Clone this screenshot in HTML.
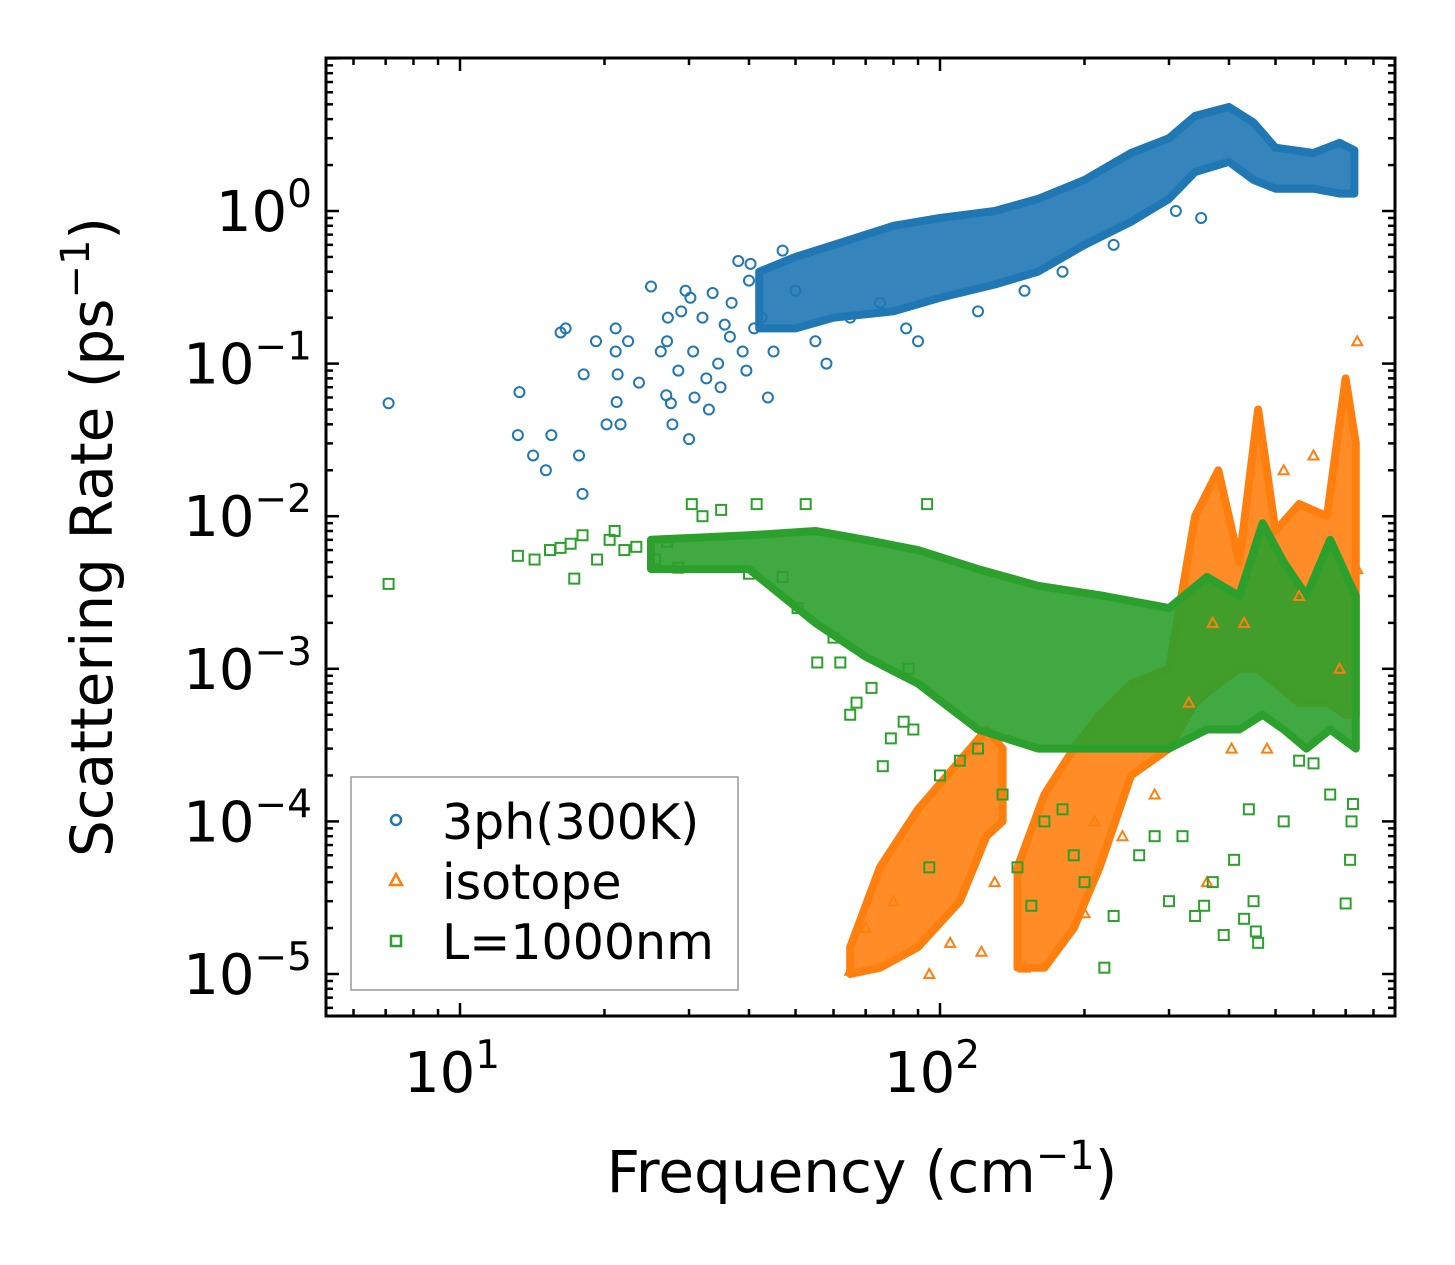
<!DOCTYPE html>
<html><head><meta charset="utf-8">
<style>
html,body{margin:0;padding:0;background:#fff;}
svg{display:block;font-family:"DejaVu Sans","Liberation Sans",sans-serif;}
</style></head>
<body>
<svg id="chart" width="1455" height="1265" viewBox="0 0 1455 1265" xmlns="http://www.w3.org/2000/svg">
<rect width="1455" height="1265" fill="#fff"/>
<g id="bands"></g>
<g id="marks"></g>
<g id="axes"></g>
<rect x="326" y="58" width="1069" height="958" fill="none" stroke="#000" stroke-width="3"/>
<text transform="translate(112,537) rotate(-90)" text-anchor="middle" font-size="58">Scattering Rate (ps<tspan dy="-23" font-size="40">−1</tspan><tspan dy="23">)</tspan></text>
<text x="862" y="1192" text-anchor="middle" font-size="58">Frequency (cm<tspan dy="-23" font-size="40">−1</tspan><tspan dy="23">)</tspan></text>
<g>
<rect x="351" y="777" width="387" height="213" fill="#fff" stroke="#999" stroke-width="1.5"/>
<circle cx="396" cy="820" r="5" fill="none" stroke="#1f77b4" stroke-width="2.5"/>
<text x="442" y="839" font-size="49">3ph(300K)</text>
<path d="M396,874 L402,885 L390,885 Z" fill="none" stroke="#ff7f0e" stroke-width="2.5"/>
<text x="442" y="899" font-size="49">isotope</text>
<rect x="391" y="936" width="10" height="10" fill="none" stroke="#2ca02c" stroke-width="2.5"/>
<text x="442" y="959" font-size="49">L=1000nm</text>
</g>
</svg>
<script>
// ---- data ----
const xTickValues=[10,100];
const yTickExponents=[0,-1,-2,-3,-4,-5];
// envelopes: [freq, low, high]
const blueBand=[[42,0.17,0.4],[50,0.17,0.5],[60,0.2,0.6],[80,0.22,0.8],[100,0.27,0.9],[130,0.33,1.0],[160,0.4,1.2],[200,0.6,1.6],[250,0.85,2.4],[300,1.2,3.0],[340,1.8,4.2],[400,2.1,4.8],[450,1.6,3.8],[500,1.4,2.6],[600,1.4,2.4],[680,1.3,2.8],[730,1.3,2.5]];
const orangeBand1=[[65,1.0e-5,1.5e-5],[75,1.1e-5,5e-5],[90,1.5e-5,1.2e-4],[110,3e-5,2.5e-4],[125,8e-5,4e-4],[135,1e-4,3e-4]];
const orangeBand2=[[145,1.1e-5,5e-5],[165,1.1e-5,1.5e-4],[190,2e-5,3e-4],[215,5e-5,5e-4],[250,2e-4,8e-4],[300,3e-4,1e-3],[340,6e-4,1e-2],[380,8e-4,2e-2],[420,1e-3,5e-3],[460,1e-3,5e-2],[500,8e-4,8e-3],[560,6e-4,1.2e-2],[640,6e-4,1e-2],[700,5e-4,8e-2],[735,5e-4,3e-2]];
const greenBand=[[25,4.5e-3,7e-3],[40,4.5e-3,7.5e-3],[55,2e-3,8e-3],[70,1.2e-3,7e-3],[90,8e-4,6e-3],[120,4e-4,4.5e-3],[160,3e-4,3.5e-3],[220,3e-4,3e-3],[300,3e-4,2.5e-3],[360,4e-4,4e-3],[420,4e-4,3e-3],[470,5e-4,9e-3],[520,4e-4,5e-3],[580,3e-4,3e-3],[650,4e-4,7e-3],[735,3e-4,3e-3]];
// sparse points: [freq, rate]
const bluePoints=[[7.1,0.055],[13.3,0.065],[13.2,0.034],[14.2,0.025],[15.1,0.02],[15.5,0.034],[16.2,0.16],[16.6,0.17],[17.7,0.025],[18.0,0.014],[18.1,0.085],[19.2,0.14],[20.2,0.04],[21.1,0.17],[21.1,0.12],[21.2,0.056],[21.6,0.04],[21.3,0.085],[22.4,0.14],[23.6,0.075],[25.0,0.32],[26.2,0.12],[26.9,0.062],[27.1,0.2],[27.0,0.14],[27.5,0.055],[27.7,0.04],[28.5,0.09],[28.9,0.22],[29.5,0.3],[30.0,0.032],[30.2,0.27],[30.6,0.12],[30.8,0.06],[32.0,0.2],[32.6,0.08],[33.0,0.05],[33.6,0.29],[34.5,0.1],[34.9,0.07],[35.6,0.18],[36.5,0.15],[36.8,0.25],[38.0,0.47],[38.8,0.12],[39.5,0.09],[40.0,0.35],[40.3,0.45],[41.0,0.17],[42.5,0.2],[43.8,0.06],[45,0.12],[47,0.55],[50,0.3],[55,0.14],[58,0.1],[65,0.2],[75,0.25],[85,0.17],[90,0.14],[120,0.22],[150,0.3],[180,0.4],[230,0.6],[310,1.0],[350,0.9]];
const orangePoints=[[65,1.05e-5],[70,2e-5],[80,3e-5],[95,1e-5],[105,1.6e-5],[122,1.4e-5],[130,4e-5],[150,1.1e-5],[200,2.5e-5],[210,1e-4],[240,8e-5],[280,1.5e-4],[330,6e-4],[360,4e-5],[370,2e-3],[405,3e-4],[430,2e-3],[480,3e-4],[520,2e-2],[560,3e-3],[600,2.5e-2],[680,1e-3],[740,4.5e-3],[740,1.4e-1]];
const greenPoints=[[7.1,3.6e-3],[13.2,5.5e-3],[14.3,5.2e-3],[15.4,6e-3],[16.2,6.2e-3],[17.0,6.6e-3],[17.3,3.9e-3],[18.0,7.5e-3],[19.3,5.2e-3],[20.5,7e-3],[21.0,8e-3],[22.0,6e-3],[23.3,6.3e-3],[25.5,5.2e-3],[27.0,6.8e-3],[28.5,4.6e-3],[30.4,1.2e-2],[32.0,1e-2],[35.0,1.1e-2],[40.0,4.2e-3],[41.5,1.2e-2],[47.0,4e-3],[50.5,2.5e-3],[52.5,1.2e-2],[55.5,1.1e-3],[60.0,1.6e-3],[62.0,1.1e-3],[65.0,5e-4],[67.0,6e-4],[72.0,7.5e-4],[76.0,2.3e-4],[79.0,3.5e-4],[84.0,4.5e-4],[86.0,1e-3],[88.0,4e-4],[94.0,1.2e-2],[95.0,5e-5],[100.0,2e-4],[110.0,2.5e-4],[120.0,3e-4],[135.0,1.5e-4],[145.0,5e-5],[155.0,2.8e-5],[165.0,1e-4],[180.0,1.2e-4],[190.0,6e-5],[200.0,4e-5],[220.0,1.1e-5],[230.0,2.4e-5],[260.0,6e-5],[280.0,8e-5],[300.0,3e-5],[320.0,8e-5],[340.0,2.4e-5],[355.0,2.8e-5],[370.0,4e-5],[390.0,1.8e-5],[410.0,5.6e-5],[430.0,2.3e-5],[440.0,1.2e-4],[455.0,1.9e-5],[460.0,1.6e-5],[450.0,3e-5],[520.0,1e-4],[560.0,2.5e-4],[600.0,2.4e-4],[650.0,1.5e-4],[700.0,2.9e-5],[715.0,5.6e-5],[720.0,1e-4],[725.0,1.3e-4]];
// ---- scales ----
const X0=326,X1=1395,Y0=58,Y1=1016;
const xLogMin=Math.log10(100)-(940-X0)/480, xLogMax=Math.log10(100)+(X1-940)/480;
const yLogMax=(211-Y0)/152.6, yLogMin=-5-(Y1-974)/152.6;
function xs(f){return X0+(Math.log10(f)-xLogMin)/(xLogMax-xLogMin)*(X1-X0);}
function ys(v){return Y1-(Math.log10(v)-yLogMin)/(yLogMax-yLogMin)*(Y1-Y0);}
const NS="http://www.w3.org/2000/svg";
function mk(tag,attrs,parent){const e=document.createElementNS(NS,tag);for(const k in attrs)e.setAttribute(k,attrs[k]);parent.appendChild(e);return e;}
const bands=document.getElementById('bands'),marks=document.getElementById('marks'),axes=document.getElementById('axes');
function band(arr,color,name){
  let d='M'+arr.map(p=>xs(p[0]).toFixed(1)+','+ys(p[2]).toFixed(1)).join(' L');
  d+=' L'+arr.slice().reverse().map(p=>xs(p[0]).toFixed(1)+','+ys(p[1]).toFixed(1)).join(' L')+' Z';
  const e=mk('path',{d:d,fill:color,stroke:color,'stroke-width':8,'stroke-linejoin':'round','fill-opacity':0.9},bands);
  
  
}
band(orangeBand1,'#ff7f0e','isotope-band-low');
band(orangeBand2,'#ff7f0e','isotope-band-high');
band(greenBand,'#2ca02c','boundary-band');
band(blueBand,'#1f77b4','three-phonon-band');
orangePoints.forEach(p=>{const x=xs(p[0]),y=ys(p[1]);
  const e=mk('path',{d:`M${x},${y-5} L${x+5},${y+4} L${x-5},${y+4} Z`,fill:'none',stroke:'#ff7f0e','stroke-width':2},marks);
  
  });
greenPoints.forEach(p=>{
  const e=mk('rect',{x:xs(p[0])-5,y:ys(p[1])-5,width:10,height:10,fill:'none',stroke:'#2ca02c','stroke-width':2},marks);
  
  });
bluePoints.forEach(p=>{
  const e=mk('circle',{cx:xs(p[0]),cy:ys(p[1]),r:5,fill:'none',stroke:'#1f77b4','stroke-width':2},marks);
  
  });
// ticks
for(let dec=0;dec<=2;dec++){for(let m=1;m<=9;m++){const f=m*Math.pow(10,dec);const x=xs(f);if(x<X0||x>X1)continue;const L=m===1?13:7;
  const a=mk('line',{x1:x,x2:x,y1:Y1,y2:Y1-L,stroke:'#000','stroke-width':2.5},axes);
  
  
  const b=mk('line',{x1:x,x2:x,y1:Y0,y2:Y0+L,stroke:'#000','stroke-width':2.5},axes);
  
  }}
for(let e=-6;e<=1;e++){for(let m=1;m<=9;m++){const v=m*Math.pow(10,e);const y=ys(v);if(y<Y0||y>Y1)continue;const L=m===1?13:7;
  const a=mk('line',{x1:X0,x2:X0+L,y1:y,y2:y,stroke:'#000','stroke-width':2.5},axes);
  
  
  const b=mk('line',{x1:X1,x2:X1-L,y1:y,y2:y,stroke:'#000','stroke-width':2.5},axes);
  
  }}
xTickValues.forEach(v=>{const t=mk('text',{x:xs(v)-8,y:1092,'text-anchor':'middle','font-size':56},axes);
  
  
  t.innerHTML='10<tspan dy="-24" font-size="39">'+Math.round(Math.log10(v))+'</tspan>';});
yTickExponents.forEach(e=>{const t=mk('text',{x:312,y:ys(Math.pow(10,e))+20,'text-anchor':'end','font-size':56},axes);
  
  
  t.innerHTML='10<tspan dy="-24" font-size="39">'+(e<0?'−'+(-e):e)+'</tspan>';});
</script>
</body></html>
